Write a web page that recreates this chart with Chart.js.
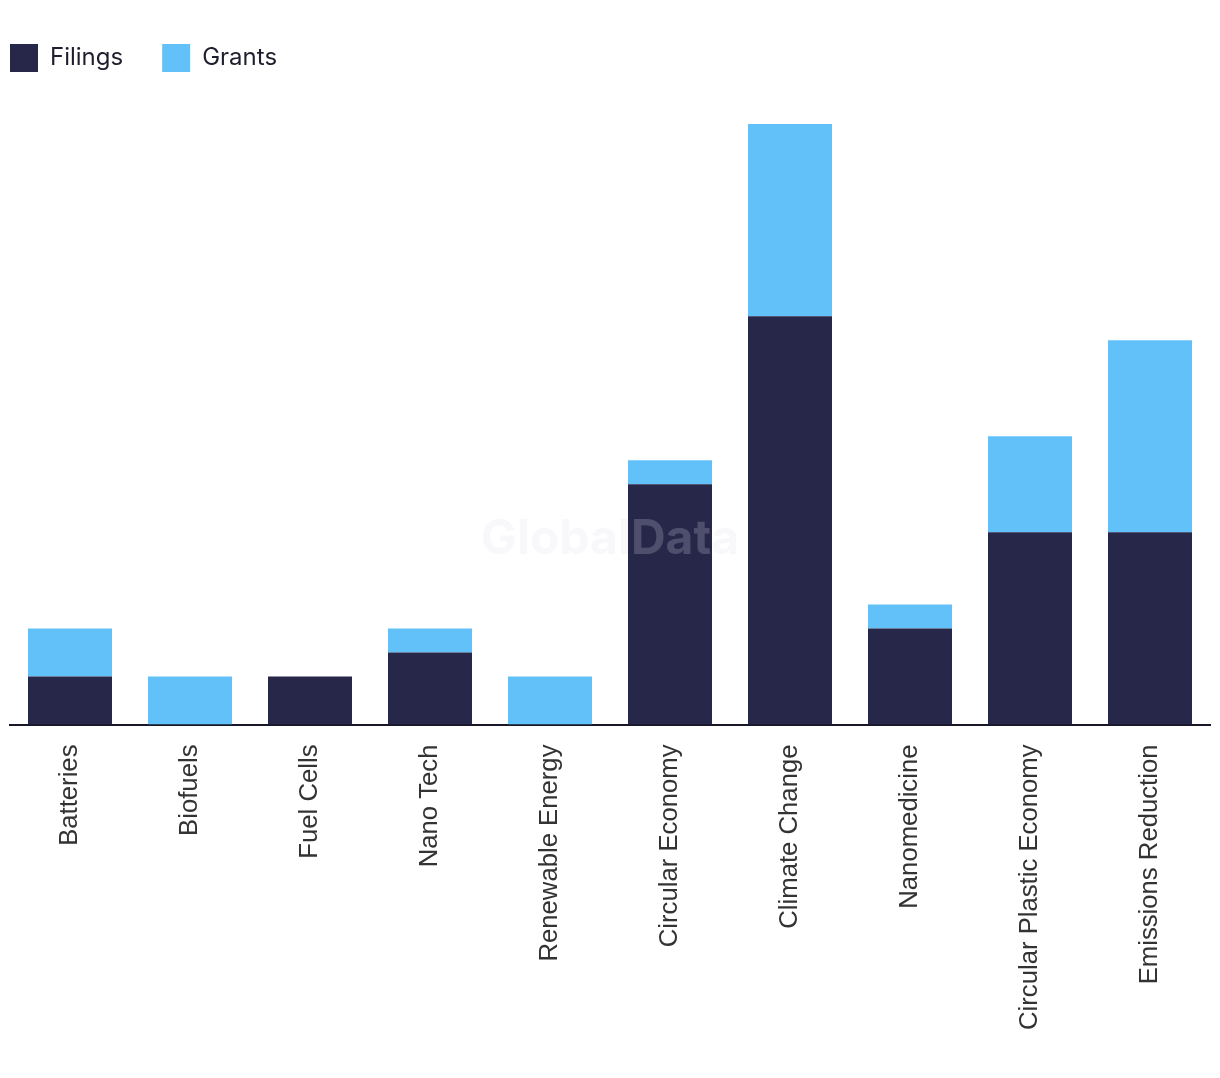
<!DOCTYPE html>
<html>
<head>
<meta charset="utf-8">
<script src="https://cdn.jsdelivr.net/npm/chart.js@4"></script>
<style>
  html, body { margin: 0; padding: 0; background: #fff; }
  #wrap { width: 1220px; height: 1078px; }
</style>
</head>
<body>
<div id="wrap"><canvas id="patentChart"></canvas></div>
<script>
const categories = ["Batteries", "Biofuels", "Fuel Cells", "Nano Tech", "Renewable Energy",
  "Circular Economy", "Climate Change", "Nanomedicine", "Circular Plastic Economy", "Emissions Reduction"];
const filings = [2, 0, 2, 3, 0, 10, 17, 4, 8, 8];
const grants = [2, 2, 0, 1, 2, 1, 8, 1, 4, 8];

const legendPad = 39;

// faint watermark in the middle of the plot
const watermark = {
  id: "watermark",
  afterDatasetsDraw(chart) {
    const { ctx } = chart;
    ctx.save();
    ctx.font = "bold 48px Inter, 'Liberation Sans', sans-serif";
    ctx.fillStyle = "rgba(225, 225, 235, 0.22)";
    ctx.textAlign = "center";
    ctx.textBaseline = "middle";
    ctx.fillText("GlobalData", 610, 540);
    ctx.restore();
  },
};

// extra room under the legend, and pull it flush with the plot's left edge
const legendGap = {
  id: "legendGap",
  beforeInit(chart) {
    const fit = chart.legend.fit;
    chart.legend.fit = function () {
      fit.bind(chart.legend)();
      this.height += 42;
    };
  },
  afterLayout(chart) {
    chart.legend.left = 10 - legendPad;
  },
};

const ctx = document.getElementById("patentChart").getContext("2d");
new Chart(ctx, {
  type: "bar",
  data: {
    labels: categories,
    datasets: [
      { label: "Filings", data: filings, backgroundColor: "#27274a", categoryPercentage: 0.7, barPercentage: 1 },
      { label: "Grants", data: grants, backgroundColor: "#62c1f8", categoryPercentage: 0.7, barPercentage: 1 },
    ],
  },
  options: {
    responsive: true,
    maintainAspectRatio: false,
    animation: false,
    layout: { padding: { left: 10, right: 10, top: 5, bottom: 36 } },
    plugins: {
      legend: {
        position: "top",
        align: "start",
        labels: {
          boxWidth: 28,
          boxHeight: 28,
          padding: legendPad,
          color: "#1e1e2e",
          font: { family: "Inter, 'Liberation Sans', sans-serif", size: 24 },
        },
      },
      tooltip: { enabled: false },
    },
    scales: {
      x: {
        stacked: true,
        grid: { display: false },
        border: { display: true, color: "#171728", width: 2 },
        ticks: {
          maxRotation: 90,
          minRotation: 90,
          padding: 12,
          color: "#333",
          font: { family: "'Liberation Sans', Arial, sans-serif", size: 25.7 },
        },
      },
      y: {
        stacked: true,
        display: false,
        min: 0,
        max: 25,
      },
    },
  },
  plugins: [legendGap, watermark],
});
</script>
</body>
</html>
